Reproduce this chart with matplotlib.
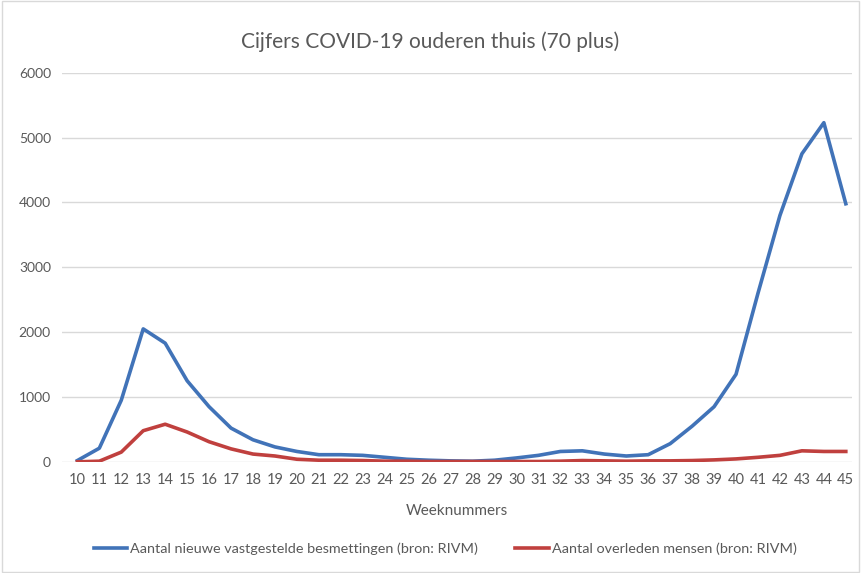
import numpy as np
import matplotlib.pyplot as plt

plt.rcParams['font.family'] = ['Lato', 'DejaVu Sans']

# Weeknummers en waarden
weeks = list(range(10, 46))
besmettingen = [20, 210, 950, 2050, 1830, 1250, 850, 520, 340, 230,
                160, 110, 110, 100, 70, 40, 25, 15, 10, 25,
                60, 100, 160, 170, 120, 90, 110, 280, 550, 850,
                1350, 2600, 3800, 4750, 5230, 3980]
overleden = [0, 10, 150, 480, 580, 460, 310, 200, 120, 90,
             40, 25, 25, 20, 10, 10, 5, 5, 5, 5,
             5, 5, 10, 20, 15, 10, 15, 15, 20, 30,
             45, 70, 100, 170, 160, 160]

label_blue = "Aantal nieuwe vastgestelde besmettingen (bron: RIVM)"
label_red = "Aantal overleden mensen (bron: RIVM)"

fig = plt.figure(figsize=(8.61, 5.73), dpi=100)
ax = fig.add_axes([0.072, 0.194, 0.918, 0.679])

ax.plot(weeks, besmettingen, color='#4173b8', linewidth=2.6, label=label_blue)
ax.plot(weeks, overleden, color='#c0403e', linewidth=2.6, label=label_red)

ax.set_xlim(9.3, 45.3)
ax.set_ylim(0, 6000)
ax.set_yticks(range(0, 6001, 1000))
ax.set_xticks(weeks)
ax.grid(axis='y', color='#d9d9d9', linewidth=1)
ax.set_axisbelow(True)
for s in ax.spines.values():
    s.set_visible(False)
ax.tick_params(length=0, colors='#595959', labelsize=10)
ax.tick_params(axis='x', pad=8, labelsize=10.5)
ax.tick_params(axis='y', pad=8)

ax.set_xlabel("Weeknummers", fontsize=11, color='#595959', labelpad=12)
fig.text(0.5, 0.927, "Cijfers COVID-19 ouderen thuis (70 plus)",
         ha='center', va='center', fontsize=15, color='#595959')

fig.legend(loc='center', bbox_to_anchor=(0.517, 0.042), ncol=2, frameon=False,
           fontsize=10.4, labelcolor='#595959', handlelength=2.3,
           handletextpad=0.2, columnspacing=2.6)

fig.patches.append(plt.Rectangle((0.002, 0.002), 0.996, 0.996, transform=fig.transFigure,
                                 fill=False, edgecolor='#d9d9d9', linewidth=1))

fig.savefig("out.png", dpi=100)
